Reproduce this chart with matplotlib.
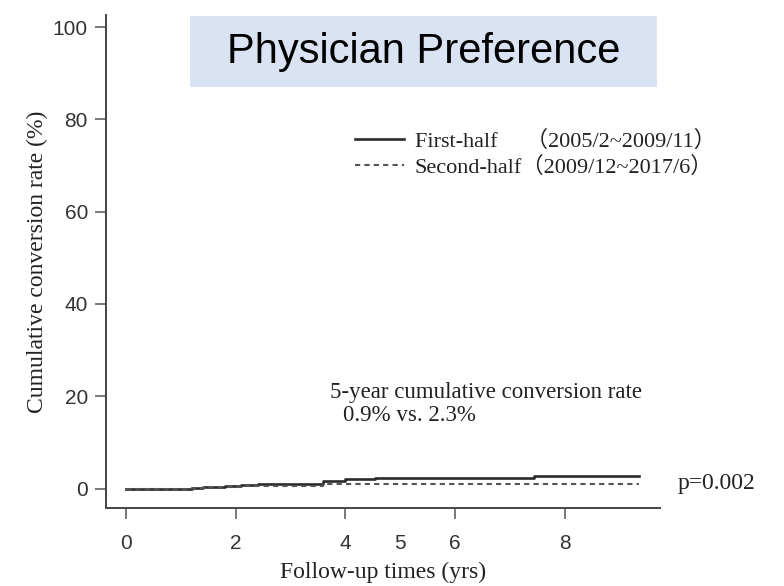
import matplotlib
matplotlib.use("Agg")
import matplotlib.pyplot as plt
from matplotlib.patches import Rectangle
from matplotlib.font_manager import FontProperties

# Kaplan-Meier style cumulative conversion (step curves)
first_t = [0, 1.2, 1.4, 1.8, 2.1, 2.4, 3.6, 4.0, 4.55, 7.45, 9.35]
first_y = [0, 0.15, 0.3, 0.5, 0.7, 1.1, 1.7, 2.1, 2.3, 2.7, 2.7]
second_t = [0, 1.2, 1.5, 1.8, 2.1, 3.6, 9.35]
second_y = [0, 0.15, 0.3, 0.45, 0.6, 0.9, 0.9]

first_label = "First-half     （2005/2~2009/11）"
second_label = "Second-half（2009/12~2017/6）"
x_ticks = [0, 2, 4, 6, 8]
x_minor = [5]
y_ticks = [0, 20, 40, 60, 80, 100]

title = "Physician Preference"
note_1 = "5-year cumulative conversion rate"
note_2 = "0.9% vs. 2.3%"
p_text = "p=0.002"

serif = ["Liberation Serif", "Noto Sans CJK SC"]
sans = "Liberation Sans"

W, H = 784, 586
fig = plt.figure(figsize=(W / 100, H / 100), dpi=100)

# axes box in pixels: left spine at x=106, bottom spine at y=508
left, right, top, bottom = 106, 660, 15, 508
ax = fig.add_axes([left / W, (H - bottom) / H, (right - left) / W, (bottom - top) / H])

ax.step(first_t, first_y, where="post", color="#2a2a2a", lw=1.9)
ax.step(second_t, second_y, where="post", color="#555555", lw=1.5, ls=(0, (2.5, 2)))

ax.set_xlim(-0.365, 9.74)
ax.set_ylim(-4.2, 102.6)

for s in ["top", "right"]:
    ax.spines[s].set_visible(False)
for s in ["left", "bottom"]:
    ax.spines[s].set_color("#444444")
    ax.spines[s].set_linewidth(1.4)

ax.set_xticks(x_ticks)
ax.set_xticklabels([str(v) for v in x_ticks])
ax.set_xticks(x_minor, minor=True)
ax.set_xticklabels([str(v) for v in x_minor], minor=True)
ax.set_yticks(y_ticks)
ax.set_yticklabels([str(v) for v in y_ticks])

ax.tick_params(axis="both", which="major", length=8, width=1.1, color="#555555",
               labelsize=15, labelcolor="#333333", pad=5)
ax.tick_params(axis="x", which="major", pad=11)
ax.tick_params(axis="x", which="minor", length=0, labelsize=15,
               labelcolor="#333333", pad=19)
for lab in ax.get_xticklabels(which="both") + ax.get_yticklabels():
    lab.set_fontfamily(sans)

ax.set_xlabel("Follow-up times (yrs)", fontfamily=serif, fontsize=17, color="#222222")
ax.xaxis.set_label_coords(0.5, -0.11)
ax.set_ylabel("Cumulative conversion rate (%)", fontfamily=serif, fontsize=17, color="#222222")
ax.yaxis.set_label_coords(-0.104, 0.5)

leg = ax.legend([first_label, second_label], loc="upper left",
                bbox_to_anchor=(0.449, 0.765), frameon=False,
                prop=FontProperties(family=serif, size=16),
                handlelength=2.2, handletextpad=0.5, labelspacing=0.2,
                borderpad=0, borderaxespad=0)
for t in leg.get_texts():
    t.set_color("#222222")

ax.text(3.72, 20.9, note_1, fontfamily=serif, fontsize=16.5, color="#222222", va="center")
ax.text(3.96, 15.9, note_2, fontfamily=serif, fontsize=16.5, color="#222222", va="center")
ax.text(10.07, 1.0, p_text, fontfamily=serif, fontsize=17, color="#222222", va="center", clip_on=False)

# title banner
fig.patches.append(Rectangle((190 / W, (H - 87) / H), (657 - 190) / W, (87 - 16) / H,
                             transform=fig.transFigure, facecolor="#dae3f3", edgecolor="none", zorder=0))
fig.text((190 + 657) / 2 / W, (H - 51.5) / H, title, fontfamily=sans, fontsize=30,
         color="black", ha="center", va="center")

fig.savefig("out.png", dpi=100)
